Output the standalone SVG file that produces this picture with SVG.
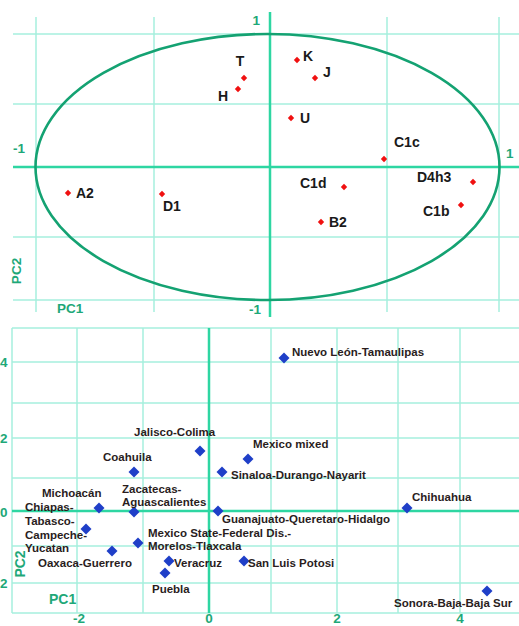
<svg xmlns="http://www.w3.org/2000/svg" width="519" height="626" viewBox="0 0 519 626">
<style>
.grid{stroke:#a6f0de;stroke-width:1.5;fill:none}
.axis{stroke:#2ed6a2;stroke-width:2.5;fill:none}
.ell{stroke:#14a272;stroke-width:2.6;fill:none}
.ax{font-family:"Liberation Sans",Arial,sans-serif;font-weight:bold;font-size:13.5px;fill:#1ea878}
.lu{font-family:"Liberation Sans",Arial,sans-serif;font-weight:bold;font-size:14px;fill:#1a1a1a}
.ll{font-family:"Liberation Sans",Arial,sans-serif;font-weight:bold;font-size:11.5px;fill:#2a1d1d}
.rp{fill:#f01010}
.bp{fill:#1f3fc8}
</style>
<defs>
<path id="rd" d="M0,-3.2 L3.2,0 L0,3.2 L-3.2,0 Z"/>
<path id="bd" d="M0,-5.5 L5.5,0 L0,5.5 L-5.5,0 Z"/>
</defs>
<rect width="519" height="626" fill="#ffffff"/>

<!-- Upper plot grid -->
<g id="upper-grid">
<path class="grid" d="M13,34H519M13,104H519M13,237H519M13,300H519M36,17V312M154,17V312M387,17V312M499,17V312"/>
<path class="axis" d="M13,167H519M270,12V317"/>
<ellipse class="ell" cx="267.5" cy="167" rx="232" ry="133"/>
<text class="ax" x="260" y="25" text-anchor="end">1</text>
<text class="ax" x="13" y="153">-1</text>
<text class="ax" x="506" y="158">1</text>
<text class="ax" x="261" y="314" text-anchor="end">-1</text>
<text class="ax" x="57" y="313">PC1</text>
<text class="ax" transform="translate(21,271) rotate(-90)" text-anchor="middle">PC2</text>
</g>

<g id="T"><use href="#rd" class="rp" x="244" y="78"/><text class="lu" x="240" y="66" text-anchor="middle">T</text></g>
<g id="H"><use href="#rd" class="rp" x="238" y="89"/><text class="lu" x="223" y="101" text-anchor="middle">H</text></g>
<g id="K"><use href="#rd" class="rp" x="297" y="60"/><text class="lu" x="303" y="61">K</text></g>
<g id="J"><use href="#rd" class="rp" x="315" y="78"/><text class="lu" x="323" y="77">J</text></g>
<g id="U"><use href="#rd" class="rp" x="291" y="118"/><text class="lu" x="300" y="123">U</text></g>
<g id="C1c"><use href="#rd" class="rp" x="384" y="159"/><text class="lu" x="394" y="147">C1c</text></g>
<g id="A2"><use href="#rd" class="rp" x="68" y="193"/><text class="lu" x="76" y="198">A2</text></g>
<g id="D1"><use href="#rd" class="rp" x="162" y="194"/><text class="lu" x="163" y="211">D1</text></g>
<g id="C1d"><use href="#rd" class="rp" x="344" y="187"/><text class="lu" x="300" y="188">C1d</text></g>
<g id="B2"><use href="#rd" class="rp" x="321" y="222"/><text class="lu" x="329" y="227">B2</text></g>
<g id="D4h3"><use href="#rd" class="rp" x="473" y="182"/><text class="lu" x="417" y="182">D4h3</text></g>
<g id="C1b"><use href="#rd" class="rp" x="461" y="205"/><text class="lu" x="423" y="216">C1b</text></g>

<!-- Lower plot grid -->
<g id="lower-grid">
<path class="grid" d="M12,328H519M12,362H519M12,403H519M12,438H519M12,478H519M12,546H519M12,583H519M12,613H519M12,328V613M77,328V613M143,328V613M271,328V613M337,328V613M398,328V613M460,328V613"/>
<path class="axis" d="M12,511H519M209,328V613"/>
<text class="ax" x="0" y="367">4</text>
<text class="ax" x="0" y="443">2</text>
<text class="ax" x="0" y="517">0</text>
<text class="ax" x="0" y="588">2</text>
<text class="ax" x="79" y="623" text-anchor="middle">-2</text>
<text class="ax" x="209" y="623" text-anchor="middle">0</text>
<text class="ax" x="337" y="623" text-anchor="middle">2</text>
<text class="ax" x="460" y="623" text-anchor="middle">4</text>
<text class="ax" x="49" y="604" style="font-size:14px">PC1</text>
<text class="ax" transform="translate(25,564) rotate(-90)" text-anchor="middle" style="font-size:14px">PC2</text>
</g>

<g id="nuevo-leon"><use href="#bd" class="bp" x="284" y="358"/><text class="ll" x="292" y="356">Nuevo León-Tamaulipas</text></g>
<g id="jalisco"><use href="#bd" class="bp" x="200" y="451"/><text class="ll" x="134" y="436">Jalisco-Colima</text></g>
<g id="mexico-mixed"><use href="#bd" class="bp" x="248" y="459"/><text class="ll" x="253" y="448">Mexico mixed</text></g>
<g id="coahuila"><use href="#bd" class="bp" x="134" y="472"/><text class="ll" x="103" y="461">Coahuila</text></g>
<g id="sinaloa"><use href="#bd" class="bp" x="222" y="472"/><text class="ll" x="231" y="479">Sinaloa-Durango-Nayarit</text></g>
<g id="chihuahua"><use href="#bd" class="bp" x="407" y="508"/><text class="ll" x="412" y="501">Chihuahua</text></g>
<g id="michoacan"><use href="#bd" class="bp" x="99" y="508"/><text class="ll" x="42" y="497">Michoacán</text></g>
<g id="zacatecas"><use href="#bd" class="bp" x="134" y="512"/><text class="ll" x="122" y="493">Zacatecas-</text><text class="ll" x="122" y="506">Aguascalientes</text></g>
<g id="guanajuato"><use href="#bd" class="bp" x="218" y="511"/><text class="ll" x="222" y="523">Guanajuato-Queretaro-Hidalgo</text></g>
<g id="chiapas"><text class="ll" x="25" y="511">Chiapas-</text><text class="ll" x="25" y="525">Tabasco-</text><text class="ll" x="25" y="539">Campeche-</text><text class="ll" x="25" y="552">Yucatan</text><use href="#bd" class="bp" x="86" y="529"/></g>
<g id="mexico-state"><use href="#bd" class="bp" x="138" y="543"/><text class="ll" x="148" y="537">Mexico State-Federal Dis.-</text><text class="ll" x="148" y="550">Morelos-Tlaxcala</text></g>
<g id="oaxaca"><use href="#bd" class="bp" x="112" y="551"/><text class="ll" x="38" y="567">Oaxaca-Guerrero</text></g>
<g id="veracruz"><use href="#bd" class="bp" x="169" y="561"/><text class="ll" x="174" y="567">Veracruz</text></g>
<g id="san-luis"><use href="#bd" class="bp" x="244" y="561"/><text class="ll" x="248" y="567">San Luis Potosi</text></g>
<g id="puebla"><use href="#bd" class="bp" x="165" y="573"/><text class="ll" x="152" y="593">Puebla</text></g>
<g id="sonora"><use href="#bd" class="bp" x="487" y="591"/><text class="ll" x="394" y="607">Sonora-Baja-Baja Sur</text></g>

<g id="connectors"/>
</svg>
